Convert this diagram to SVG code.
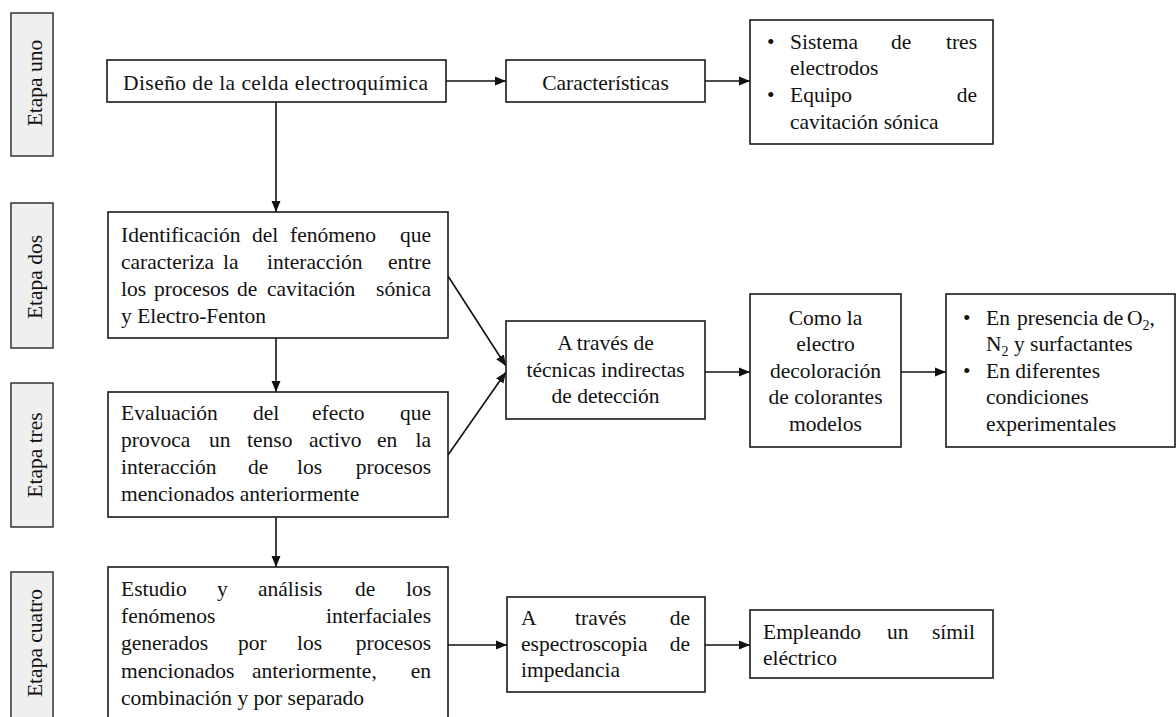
<svg xmlns="http://www.w3.org/2000/svg" width="1176" height="717" viewBox="0 0 1176 717">
<style>
text{font-family:'Liberation Serif',serif;font-size:21.5px;fill:#111}
.e{text-anchor:end}
.m{text-anchor:middle}
.box{fill:#fff;stroke:#1a1a1a;stroke-width:1.6}
.stage{fill:#efefef;stroke:#333;stroke-width:1.5}
.conn line{stroke:#111;stroke-width:1.6;marker-end:url(#arr)}
.sub{font-size:14px}
</style>
<defs>
<marker id="arr" viewBox="0 0 11 10" refX="11" refY="5" markerWidth="11" markerHeight="10" markerUnits="userSpaceOnUse" orient="auto">
<path d="M0,0.5 L11,5 L0,9.5 z" fill="#111"/>
</marker>
</defs>
<rect width="1176" height="717" fill="#fff"/>

<g id="stage-uno"><rect class="stage" x="11" y="13" width="42" height="143"/><text class="m" transform="translate(42,83) rotate(-90)">Etapa uno</text></g>
<g id="stage-dos"><rect class="stage" x="11" y="203" width="42" height="145"/><text class="m" transform="translate(42,277) rotate(-90)">Etapa dos</text></g>
<g id="stage-tres"><rect class="stage" x="11" y="383" width="42" height="144"/><text class="m" transform="translate(42,455) rotate(-90)">Etapa tres</text></g>
<g id="stage-cuatro"><rect class="stage" x="11" y="572" width="42" height="160"/><text class="m" transform="translate(42,643) rotate(-90)">Etapa cuatro</text></g>

<g class="conn" id="connectors">
<line x1="276" y1="102" x2="276" y2="212"/>
<line x1="446" y1="81" x2="506" y2="81"/>
<line x1="705" y1="81" x2="750" y2="81"/>
<line x1="276" y1="338" x2="276" y2="392"/>
<line x1="276" y1="517" x2="276" y2="567"/>
<line x1="448" y1="276" x2="506" y2="366"/>
<line x1="448" y1="455" x2="506" y2="372"/>
<line x1="705" y1="372" x2="750" y2="372"/>
<line x1="901" y1="372" x2="946" y2="372"/>
<line x1="448" y1="645" x2="507" y2="645"/>
<line x1="705" y1="645" x2="750" y2="645"/>
</g>

<g id="n-diseno"><rect class="box" x="107" y="60" width="339" height="42"/>
<text x="123" y="90" textLength="305" lengthAdjust="spacing">Diseño de la celda electroquímica</text></g>

<g id="n-caracteristicas"><rect class="box" x="506" y="60" width="199" height="42"/>
<text class="m" x="605.5" y="90">Características</text></g>

<g id="n-sistema"><rect class="box" x="750" y="20" width="243" height="124"/>
<text x="767" y="49">•</text><text x="790" y="49">Sistema</text><text x="891" y="49">de</text><text class="e" x="977" y="49">tres</text>
<text x="790" y="75">electrodos</text>
<text x="767" y="102">•</text><text x="790" y="102">Equipo</text><text class="e" x="977" y="102">de</text>
<text x="790" y="129">cavitación sónica</text></g>

<g id="n-identificacion"><rect class="box" x="108" y="212" width="340" height="126"/>
<text x="121" y="242">Identificación</text><text x="252" y="242">del</text><text x="290" y="242">fenómeno</text><text class="e" x="431" y="242">que</text>
<text x="121" y="269">caracteriza</text><text x="223" y="269">la</text><text x="267" y="269">interacción</text><text class="e" x="431" y="269">entre</text>
<text x="121" y="296">los</text><text x="154" y="296">procesos</text><text x="237" y="296">de</text><text x="267" y="296">cavitación</text><text class="e" x="431" y="296">sónica</text>
<text x="121" y="323">y Electro-Fenton</text></g>

<g id="n-evaluacion"><rect class="box" x="108" y="392" width="340" height="125"/>
<text x="121" y="420">Evaluación</text><text x="253" y="420">del</text><text x="312" y="420">efecto</text><text class="e" x="431" y="420">que</text>
<text x="121" y="447">provoca</text><text x="209" y="447">un</text><text x="247" y="447">tenso</text><text x="309" y="447">activo</text><text x="377" y="447">en</text><text class="e" x="431" y="447">la</text>
<text x="121" y="474">interacción</text><text x="248" y="474">de</text><text x="297" y="474">los</text><text class="e" x="431" y="474">procesos</text>
<text x="121" y="501">mencionados anteriormente</text></g>

<g id="n-estudio"><rect class="box" x="108" y="567" width="340" height="165"/>
<text x="121" y="596">Estudio</text><text x="217" y="596">y</text><text x="258" y="596">análisis</text><text x="355" y="596">de</text><text class="e" x="431" y="596">los</text>
<text x="121" y="623">fenómenos</text><text class="e" x="431" y="623">interfaciales</text>
<text x="121" y="650">generados</text><text x="238" y="650">por</text><text x="297" y="650">los</text><text class="e" x="431" y="650">procesos</text>
<text x="121" y="678">mencionados</text><text x="252" y="678">anteriormente,</text><text class="e" x="431" y="678">en</text>
<text x="121" y="705">combinación y por separado</text></g>

<g id="n-tecnicas"><rect class="box" x="506" y="321" width="199" height="98"/>
<text class="m" x="605.5" y="350">A través de</text>
<text class="m" x="605.5" y="377">técnicas indirectas</text>
<text class="m" x="605.5" y="403">de detección</text></g>

<g id="n-como"><rect class="box" x="750" y="294" width="151" height="153"/>
<text class="m" x="825.5" y="325">Como la</text>
<text class="m" x="825.5" y="351">electro</text>
<text class="m" x="825.5" y="378">decoloración</text>
<text class="m" x="825.5" y="404">de colorantes</text>
<text class="m" x="825.5" y="431">modelos</text></g>

<g id="n-presencia"><rect class="box" x="946" y="294" width="229" height="153"/>
<text x="963" y="325">•</text><text x="986" y="325">En</text><text x="1017" y="325">presencia</text><text x="1103" y="325">de</text><text x="1127" y="325">O<tspan class="sub" dy="5">2</tspan><tspan dy="-5">,</tspan></text>
<text x="986" y="351">N<tspan class="sub" dy="5">2</tspan><tspan dy="-5"> y surfactantes</tspan></text>
<text x="963" y="378">•</text><text x="986" y="378">En diferentes</text>
<text x="986" y="404">condiciones</text>
<text x="986" y="431">experimentales</text></g>

<g id="n-espectroscopia"><rect class="box" x="507" y="597" width="198" height="95"/>
<text x="521" y="625">A</text><text x="575" y="625">través</text><text class="e" x="690" y="625">de</text>
<text x="521" y="651">espectroscopia</text><text class="e" x="690" y="651">de</text>
<text x="521" y="677">impedancia</text></g>

<g id="n-empleando"><rect class="box" x="750" y="610" width="243" height="68"/>
<text x="763" y="639">Empleando</text><text x="887" y="639">un</text><text class="e" x="975" y="639">símil</text>
<text x="763" y="665">eléctrico</text></g>
</svg>
